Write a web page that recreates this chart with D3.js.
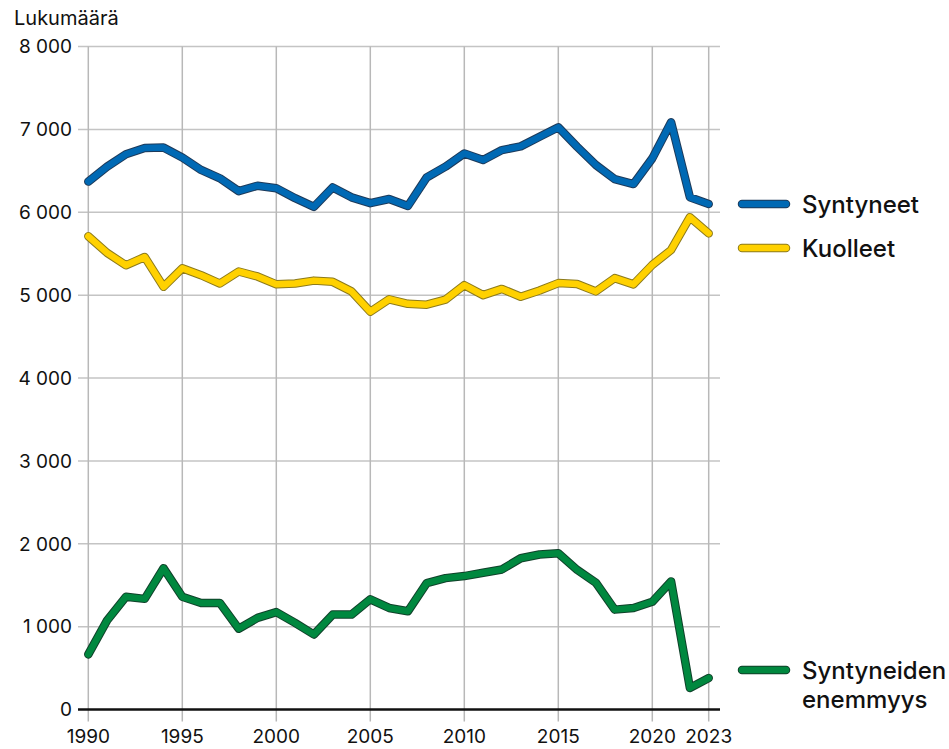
<!DOCTYPE html>
<html lang="fi">
<head>
<meta charset="utf-8">
<script src="https://cdn.jsdelivr.net/npm/d3@7"></script>
<style>
  html, body { margin: 0; padding: 0; background: #fff; }
  svg { display: block; font-family: Inter, "Noto Sans", sans-serif; }
  .tick-label { font-size: 19px; fill: #111; }
  .axis-title { font-size: 20px; fill: #111; }
  .legend-label { font-size: 24px; font-weight: 500; fill: #111; }
</style>
</head>
<body>
<svg id="chart" width="949" height="749"></svg>
<script>
// Years 1990–2023
const years = d3.range(1990, 2024);

const births = [
  6370, 6550, 6700, 6775, 6780, 6660, 6510, 6410, 6255, 6320,
  6290, 6170, 6065, 6300, 6180, 6110, 6160, 6075, 6420, 6550,
  6710, 6630, 6750, 6795, 6910, 7025, 6790, 6570, 6400, 6340,
  6650, 7085, 6180, 6100
];

const deaths = [
  5710, 5510, 5360, 5460, 5100, 5325, 5240, 5140, 5285, 5225,
  5130, 5140, 5175, 5160, 5045, 4800, 4950, 4895, 4885, 4945,
  5120, 5000, 5075, 4980, 5055, 5145, 5135, 5045, 5205, 5130,
  5365, 5545, 5940, 5745
];

const surplus = [
  665, 1075, 1360, 1335, 1705, 1360, 1285, 1285, 975, 1105,
  1175, 1045, 905, 1145, 1145, 1330, 1225, 1185, 1525, 1585,
  1610, 1650, 1690, 1825, 1870, 1885, 1685, 1530, 1205, 1225,
  1300, 1545, 260, 380
];

const yTicks = [0, 1000, 2000, 3000, 4000, 5000, 6000, 7000, 8000];
const xTicks = [1990, 1995, 2000, 2005, 2010, 2015, 2020, 2023];

const seriesList = [
  { name: ["Syntyneet"], values: births, color: "#0069b4", edge: "#1d3a5a", legendY: 204 },
  { name: ["Kuolleet"], values: deaths, color: "#ffd100", edge: "#8c7a1c", legendY: 248 },
  { name: ["Syntyneiden", "enemmyys"], values: surplus, color: "#00883f", edge: "#10412a", legendY: 670 }
];

const svg = d3.select("#chart");

const x = d3.scaleLinear().domain([1990, 2023]).range([88.3, 708.7]);
const y = d3.scaleLinear().domain([0, 8000]).range([709.5, 46.5]);

const gridLeft = 78;
const gridRight = 720;

// horizontal gridlines
svg.append("g")
  .selectAll("line")
  .data(yTicks.filter((d) => d > 0))
  .join("line")
  .attr("x1", gridLeft)
  .attr("x2", gridRight)
  .attr("y1", (d) => y(d))
  .attr("y2", (d) => y(d))
  .attr("stroke", "#c4c4c4")
  .attr("stroke-width", 1.5);

// vertical gridlines
svg.append("g")
  .selectAll("line")
  .data(xTicks)
  .join("line")
  .attr("x1", (d) => x(d))
  .attr("x2", (d) => x(d))
  .attr("y1", y(8000))
  .attr("y2", y(0) + 12)
  .attr("stroke", "#b8b8b8")
  .attr("stroke-width", 1.5);

// zero line
svg.append("line")
  .attr("x1", gridLeft)
  .attr("x2", gridRight)
  .attr("y1", y(0))
  .attr("y2", y(0))
  .attr("stroke", "#111")
  .attr("stroke-width", 2.5);

const fmt = (v) => d3.format(",")(v).replace(/,/g, " ");

// y tick labels
svg.append("g")
  .selectAll("text")
  .data(yTicks)
  .join("text")
  .attr("class", "tick-label")
  .attr("x", 72)
  .attr("y", (d) => y(d))
  .attr("dy", "0.36em")
  .attr("text-anchor", "end")
  .text((d) => fmt(d));

// x tick labels
svg.append("g")
  .selectAll("text")
  .data(xTicks)
  .join("text")
  .attr("class", "tick-label")
  .attr("x", (d) => x(d))
  .attr("y", 743)
  .attr("text-anchor", "middle")
  .text((d) => d);

svg.append("text")
  .attr("class", "axis-title")
  .attr("x", 14)
  .attr("y", 25)
  .text("Lukumäärä");

const line = d3.line()
  .x((d, i) => x(years[i]))
  .y((d) => y(d));

const lines = svg.append("g");
seriesList.forEach((s) => {
  lines.append("path")
    .attr("d", line(s.values))
    .attr("fill", "none")
    .attr("stroke", s.edge)
    .attr("stroke-width", 8.5)
    .attr("stroke-linejoin", "round")
    .attr("stroke-linecap", "round");
  lines.append("path")
    .attr("d", line(s.values))
    .attr("fill", "none")
    .attr("stroke", s.color)
    .attr("stroke-width", 6.5)
    .attr("stroke-linejoin", "round")
    .attr("stroke-linecap", "round");
});

// legend
const legend = svg.append("g");
seriesList.forEach((s) => {
  legend.append("line")
    .attr("x1", 742).attr("x2", 786)
    .attr("y1", s.legendY).attr("y2", s.legendY)
    .attr("stroke", s.edge).attr("stroke-width", 8.5)
    .attr("stroke-linecap", "round");
  legend.append("line")
    .attr("x1", 742).attr("x2", 786)
    .attr("y1", s.legendY).attr("y2", s.legendY)
    .attr("stroke", s.color).attr("stroke-width", 6.5)
    .attr("stroke-linecap", "round");
  const t = legend.append("text")
    .attr("class", "legend-label")
    .attr("x", 802)
    .attr("y", s.legendY + 9);
  s.name.forEach((part, i) => {
    t.append("tspan")
      .attr("x", 802)
      .attr("dy", i === 0 ? 0 : 29)
      .text(part);
  });
});
</script>
</body>
</html>
